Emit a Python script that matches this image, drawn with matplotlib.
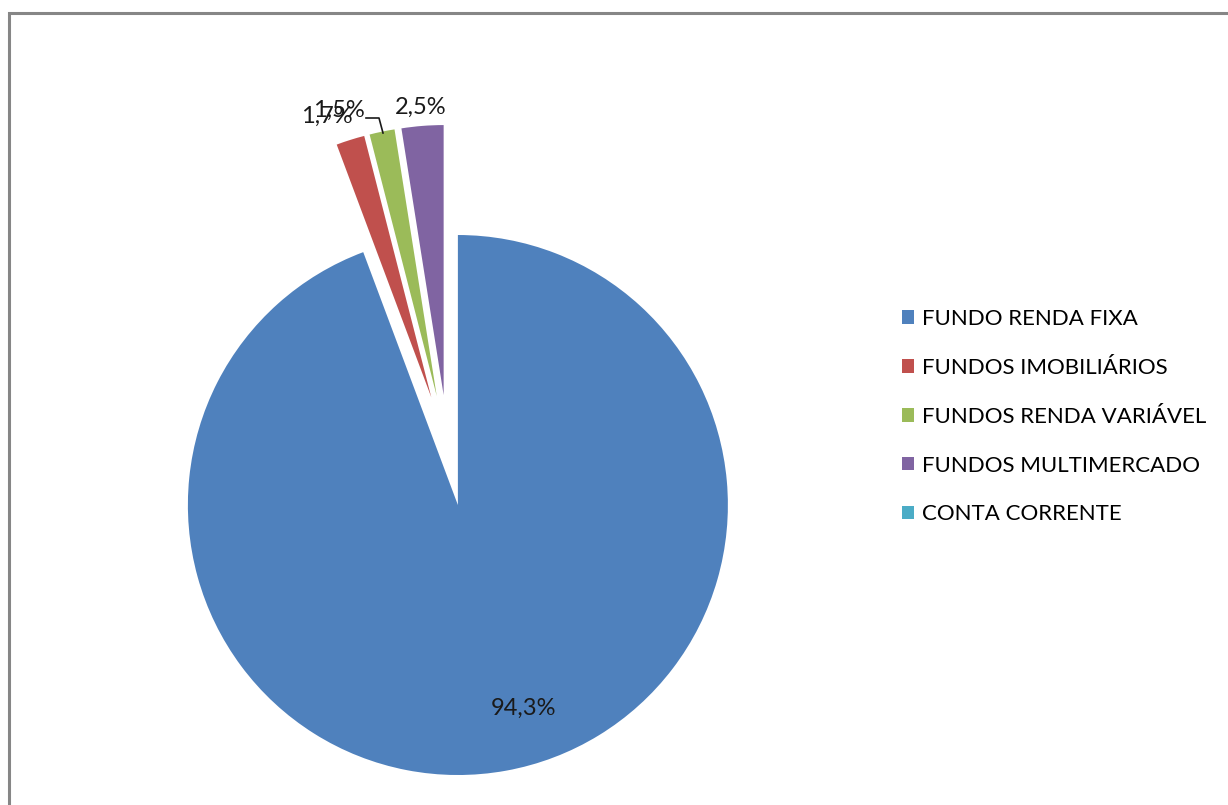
import matplotlib
matplotlib.use("Agg")
import matplotlib.pyplot as plt
from matplotlib.patches import Rectangle

# Portfolio allocation
categories = ["FUNDO RENDA FIXA", "FUNDOS IMOBILIÁRIOS", "FUNDOS RENDA VARIÁVEL",
              "FUNDOS MULTIMERCADO", "CONTA CORRENTE"]
shares = [94.3, 1.7, 1.5, 2.5, 0.0]
colors = ["#4F81BD", "#C0504D", "#9BBB59", "#8064A2", "#4BACC6"]

W, H = 1228, 805
plt.rcParams["font.family"] = ["Lato", "DejaVu Sans"]

fig = plt.figure(figsize=(W / 100, H / 100), dpi=100)
ax = fig.add_axes([0, 0, 1, 1])


def py(y):
    """Convert a top-down pixel row into the axes' y coordinate."""
    return H - y


radius = 270
centre = (448, py(450.4))
offset = 55.5

wedges, _ = ax.pie(shares, colors=colors, startangle=90, counterclock=False,
                   radius=radius, center=centre, explode=[offset] * len(shares),
                   frame=True, wedgeprops=dict(linewidth=0))
ax.set_xlim(0, W)
ax.set_ylim(0, H)
ax.set_aspect("equal")
ax.axis("off")


def fmt(v):
    return f"{v:.1f}%".replace(".", ",")


label_style = dict(fontsize=17, ha="center", va="center", color="#1a1a1a")
ax.text(523, py(708), fmt(shares[0]), **label_style)
ax.text(327, py(116), fmt(shares[1]), **label_style)
ax.text(339, py(110), fmt(shares[2]), **label_style)
ax.text(421, py(107), fmt(shares[3]), **label_style)

# leader line for the renda variável label
ax.plot([366, 379, 383], [py(118), py(118), py(133)], color="#1a1a1a", lw=1.2)

ax.legend(wedges, categories, loc="upper left", bbox_to_anchor=(893 / W, py(300) / H),
          frameon=False, fontsize=16, handlelength=0.55, handleheight=0.55,
          handletextpad=0.35, labelspacing=1.3, borderaxespad=0)

# chart area border (right and bottom edges run past the canvas)
ax.add_patch(Rectangle((9, py(H + 30)), W + 30, H + 30 - 13, fill=False,
                       edgecolor="#868686", linewidth=2.2, clip_on=False))

fig.savefig("out.png", dpi=100)
